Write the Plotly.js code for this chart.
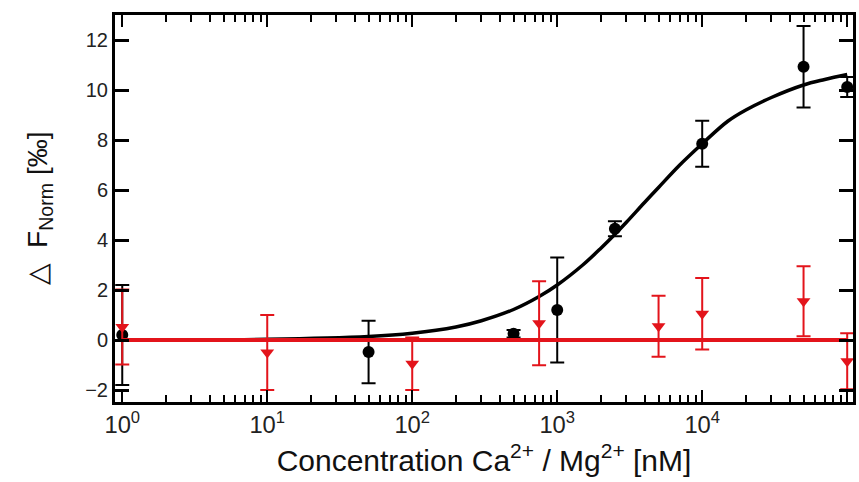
<!DOCTYPE html>
<html>
<head>
<meta charset="utf-8">
<script src="https://cdn.plot.ly/plotly-3.0.1.min.js"></script>
<style>html,body{margin:0;padding:0;background:#fff;}#chart{width:859px;height:482px;}</style>
</head>
<body>
<div id="chart"></div>
<script>
// Ca2+ (black circles) measured points
const caX   = [1, 50, 500, 1000, 2500, 10000, 50000, 100000];
const caY   = [0.2, -0.48, 0.25, 1.2, 4.45, 7.85, 10.93, 10.12];
const caErr = [2.0, 1.25, 0.15, 2.1, 0.3, 0.92, 1.63, 0.4];

// Mg2+ (red triangles) measured points
const mgX   = [1, 10, 100, 750, 5000, 10000, 50000, 100000];
const mgY   = [0.52, -0.5, -0.95, 0.67, 0.55, 1.05, 1.55, -0.85];
const mgErr = [1.5, 1.5, 1.05, 1.68, 1.22, 1.43, 1.4, 1.12];

// Fitted curve for Ca2+
const fitX = [1, 10, 50, 100, 200, 300, 500, 750, 1000, 1500, 2000, 2500, 3000, 4000, 5000, 7000, 10000, 15000, 20000, 30000, 50000, 70000, 100000];
const fitY = [0.0, 0.03, 0.14, 0.27, 0.52, 0.77, 1.22, 1.74, 2.2, 3.0, 3.67, 4.23, 4.71, 5.5, 6.1, 7.0, 7.85, 8.75, 9.2, 9.7, 10.2, 10.42, 10.62];

// Mg2+ fit (flat line)
const mgFitX = [1, 100000];
const mgFitY = [0, 0];

// Axis tick labels
const xTickAlias = {'1': '10<sup>0</sup>', '10': '10<sup>1</sup>'};
const yTickVals = [-2, 0, 2, 4, 6, 8, 10, 12];

const black = '#000000';
const red = '#e3141b';
const font = 'Liberation Sans Narrow, Liberation Sans, Arial, sans-serif';
const font2 = 'Liberation Sans, Arial, sans-serif';

const traces = [
  {x: fitX, y: fitY, type: 'scatter', mode: 'lines', line: {color: black, width: 3.5, shape: 'spline'}, hoverinfo: 'skip'},
  {x: caX, y: caY, type: 'scatter', mode: 'markers',
   marker: {symbol: 'circle', size: 12, color: black},
   error_y: {type: 'data', array: caErr, visible: true, color: black, thickness: 2, width: 7}},
  {x: mgX, y: mgY, type: 'scatter', mode: 'markers',
   marker: {symbol: 'triangle-down', size: 12, color: red},
   error_y: {type: 'data', array: mgErr, visible: true, color: red, thickness: 2, width: 7}},
  {x: mgFitX, y: mgFitY, type: 'scatter', mode: 'lines', line: {color: red, width: 4}, hoverinfo: 'skip'}
];

const layout = {
  width: 859, height: 482,
  margin: {l: 115, r: 6, t: 15, b: 80},
  paper_bgcolor: '#fff', plot_bgcolor: '#fff',
  showlegend: false,
  font: {family: font2, color: '#222'},
  xaxis: {
    type: 'log',
    range: [-0.05, 5.04],
    tickmode: 'linear', tick0: 0, dtick: 1,
    exponentformat: 'power', labelalias: xTickAlias,
    ticks: 'inside', ticklen: 12, tickwidth: 2, tickcolor: black,
    minor: {dtick: 'D1', ticks: 'inside', ticklen: 7, tickwidth: 2, tickcolor: black, showgrid: false},
    showline: true, linewidth: 3, linecolor: black, mirror: 'ticks',
    showgrid: false, zeroline: false,
    tickfont: {size: 19, family: font, color: '#222'},
    title: {text: 'Concentration Ca<sup>2+</sup> / Mg<sup>2+</sup> [nM]', font: {size: 30, family: font2, color: '#111'}, standoff: 14}
  },
  yaxis: {
    range: [-2.48, 13],
    tickmode: 'array', tickvals: yTickVals,
    ticks: 'inside', ticklen: 14, tickwidth: 3, tickcolor: black,
    showline: true, linewidth: 3, linecolor: black, mirror: 'ticks',
    showgrid: false, zeroline: false,
    tickfont: {size: 20, family: font, color: '#222'},
    title: {text: '\u25B3\u00A0\u00A0F<sub>Norm</sub> [\u2030]', font: {size: 28, family: font2, color: '#111'}, standoff: 30}
  }
};

Plotly.newPlot('chart', traces, layout, {staticPlot: true, displayModeBar: false});
</script>
</body>
</html>
